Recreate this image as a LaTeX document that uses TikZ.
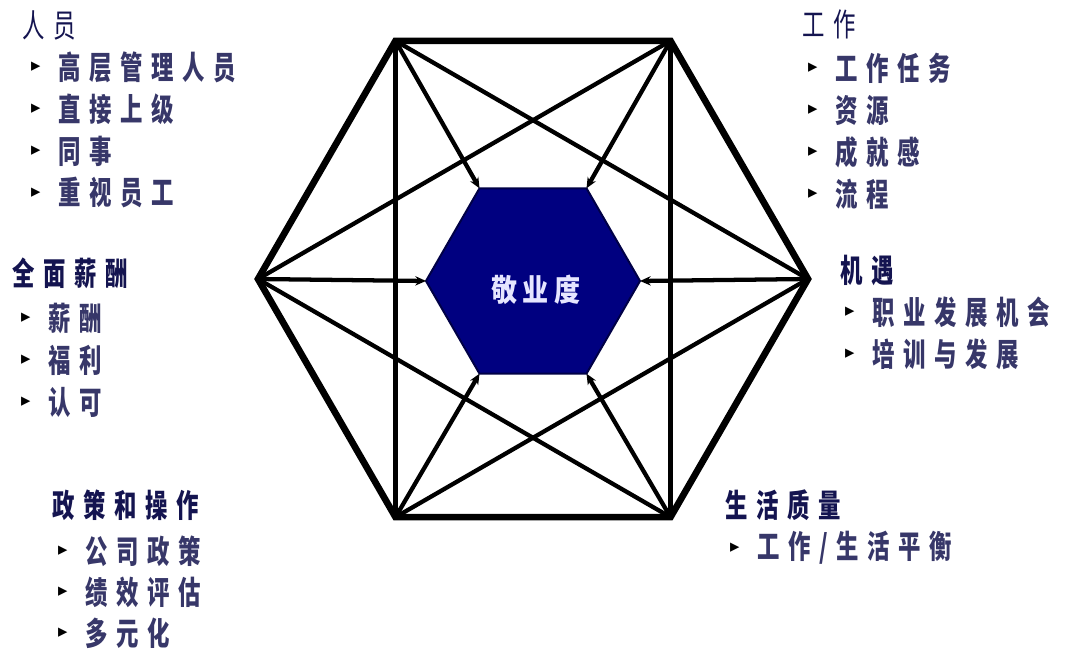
\documentclass[tikz,border=0pt]{standalone}
\usepackage{fontspec}
\newfontfamily\cjk[FakeStretch=0.7,LetterSpace=27]{Noto Sans CJK SC}
\newfontfamily\cjkmid[FakeStretch=0.85,LetterSpace=18]{Noto Sans CJK SC}
\newfontfamily\symb{DejaVu Sans}
\usetikzlibrary{arrows.meta}

\definecolor{engblue}{RGB}{0,0,128}
\definecolor{engline}{RGB}{0,0,70}
\definecolor{engtext}{RGB}{230,230,255}
\definecolor{headcol}{RGB}{20,20,80}
\definecolor{itemcol}{RGB}{55,55,105}

\tikzset{
  outer/.style={line width=5pt,line join=miter},
  link/.style={line width=3.2pt},
  arr/.style={line width=3.2pt,>={Stealth[length=8pt,width=7pt]},->},
  head/.style={anchor=west,inner sep=0pt,text=headcol,
    font=\cjk\bfseries\fontsize{24}{26}\selectfont},
  item/.style={anchor=west,inner sep=0pt,text=itemcol,
    font=\cjk\bfseries\fontsize{24}{26}\selectfont,
    label={[inner sep=0pt,text=black,font=\symb\fontsize{14}{14}\selectfont,
      label distance=13pt]left:▸}},
}

\begin{document}
\begin{tikzpicture}[x=0.75pt,y=-0.75pt]
\useasboundingbox (0,0) rectangle (1067,652);

% corners of the two hexagons
\foreach \i in {1,...,6}{
    \coordinate (o\i) at ({533+275*cos(60*(\i-1))},{279-275*sin(60*(\i-1))});
    \coordinate (i\i) at ({533+107*cos(60*(\i-1))},{281-107*sin(60*(\i-1))});
}

\foreach \i/\j in {1/3,2/4,3/5,4/6,5/1,6/2}
    \draw[link] (o\i) -- (o\j);
\draw[outer] (o1) -- (o2) -- (o3) -- (o4) -- (o5) -- (o6) -- cycle;

\draw[fill=engblue,draw=engline,line width=1.5pt]
    (i1) -- (i2) -- (i3) -- (i4) -- (i5) -- (i6) -- cycle;
\foreach \i in {1,...,6}
    \draw[arr] (o\i) -- (i\i);
\node[font=\cjkmid\bfseries\fontsize{23}{25}\selectfont,text=engtext]
    (eng) at (536,290) {敬业度};

% people
\node[head,font=\cjk\fontsize{24}{26}\selectfont] (ppl) at (22,25) {人员};
\foreach \t [count=\n] in {高层管理人员,直接上级,同事,重视员工}
    \node[item] (ppl\n) at (58,{25+42*\n}) {\t};

% work
\node[head,font=\cjk\fontsize{24}{26}\selectfont] (work) at (802,24) {工作};
\foreach \t [count=\n] in {工作任务,资源,成就感,流程}
    \node[item] (work\n) at (835,{26+42*\n}) {\t};

% pay
\node[head] (pay) at (12,273) {全面薪酬};
\foreach \t [count=\n] in {薪酬,福利,认可}
    \node[item] (pay\n) at (48,{276+42*\n}) {\t};

% chances
\node[head] (opp) at (840,270) {机遇};
\foreach \t [count=\n] in {职业发展机会,培训与发展}
    \node[item] (opp\n) at (872,{270+42*\n}) {\t};

% policy
\node[head] (pol) at (52,505) {政策和操作};
\foreach \t [count=\n] in {公司政策,绩效评估,多元化}
    \node[item] (pol\n) at (85,{510+41*\n}) {\t};

% quality of life
\node[head] (life) at (725,505) {生活质量};
\node[item] (life1) at (757,548) {工作/生活平衡};
\end{tikzpicture}
\end{document}
